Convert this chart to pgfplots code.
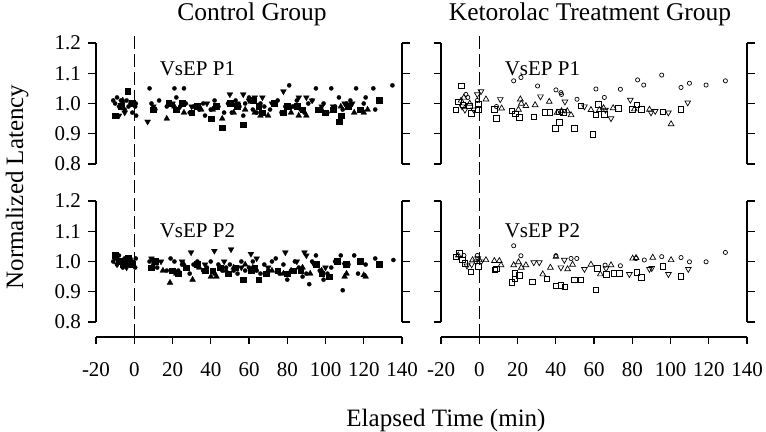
\documentclass[border=0pt]{standalone}
\usepackage{fontspec}
\setmainfont{Liberation Serif}
\usepackage{pgfplots}
\pgfplotsset{compat=1.18}

\tikzset{
  frame/.style={line width=1.1bp, black},
  vdash/.style={black, line width=1.5bp, dash pattern=on 13bp off 5bp},
  plab/.style={anchor=base west, font=\fontsize{21bp}{24bp}\selectfont},
}
\pgfplotsset{
  panel/.style={
    anchor=south west, width=306bp, height=121bp, scale only axis,
    xmin=-20, xmax=140, ymin=0.8, ymax=1.2,
    axis line style={draw=none},
    xtick=\empty, ytick={0.8,0.9,1.0,1.1,1.2},
    tick align=outside, major tick length=7.5bp,
    tick style={black, line width=1.1bp},
    ticklabel style={font=\fontsize{21bp}{24bp}\selectfont},
    yticklabel style={xshift=-4bp},
    clip=false,
  },
  leftlab/.style={yticklabels={0.8,0.9,1.0,1.1,1.2}},
  nolab/.style={yticklabels={}},
  xax/.style={
    anchor=south west, width=306bp, height=20bp, scale only axis,
    xmin=-20, xmax=140, ymin=0, ymax=1,
    axis x line=bottom, axis y line=none,
    axis line style={-, line width=1.1bp, black},
    xtick={-20,0,20,40,60,80,100,120,140},
    xticklabels={-20,0,20,40,60,80,100,120,140},
    tick align=outside, major tick length=7bp,
    tick style={black, line width=1.1bp},
    ticklabel style={font=\fontsize{21bp}{24bp}\selectfont},
    xticklabel style={yshift=-15bp},
  },
  fc/.style={only marks, mark=*, mark size=2.1bp, mark options={fill=black, draw=black, line width=0.3bp}},
  fd/.style={only marks, mark=triangle*, mark size=3.4bp, mark options={rotate=180, fill=black, draw=black, line width=0.3bp}},
  fu/.style={only marks, mark=triangle*, mark size=3.4bp, mark options={fill=black, draw=black, line width=0.3bp}},
  fs/.style={only marks, mark=square*, mark size=2.9bp, mark options={fill=black, draw=black, line width=0.3bp}},
  oc/.style={only marks, mark=o, mark size=2.1bp, mark options={draw=black, line width=0.7bp}},
  od/.style={only marks, mark=triangle, mark size=3.3bp, mark options={rotate=180, draw=black, line width=0.7bp}},
  ou/.style={only marks, mark=triangle, mark size=3.3bp, mark options={draw=black, line width=0.7bp}},
  os/.style={only marks, mark=square, mark size=2.8bp, mark options={draw=black, line width=0.7bp}},
}

\begin{document}
\begin{tikzpicture}
\path[use as bounding box] (0,0) rectangle (766bp,432bp);

% ---------------- Control P1 ----------------
\begin{axis}[panel, leftlab, at={(96bp,268bp)}]
\draw[frame] (rel axis cs:0,0) -- (rel axis cs:0,1);
\draw[frame] (rel axis cs:1,0) -- (rel axis cs:1,1);
\draw[vdash] (axis cs:0,1.222) -- (axis cs:0,0.228);
\node[plab] at (axis cs:11.5,1.091) {VsEP P1};
\addplot[fc] coordinates {
(-11,1.01)(-10,1.00)(-9,1.02)(-8,0.99)(-7,1.01)(-6,1.00)(-5,0.98)(-4,1.01)(-3,0.99)(-2,1.00)(-1,0.97)(0.5,0.99)(1,0.96)(0.8,1.00)
(8,1.05)(9,1.00)(11,0.98)(13,1.01)(17,0.99)(19,1.00)(21,1.05)(22,1.02)(24,0.99)(26,1.05)(27,1.00)(29,0.97)(31,0.99)(34,0.98)
(36,1.00)(37,0.96)(40,0.98)(42,1.01)(44,0.99)(47,0.97)(49,1.00)(51,0.97)(53,1.01)(55,0.99)(57,0.96)(58,1.00)(60,1.02)(62,0.98)
(64,0.97)(66,1.00)(68,0.99)(71,0.98)(73,1.00)(75,1.01)(77,0.97)(79,0.99)(81,1.06)(83,0.99)(85,1.01)(87,0.98)(89,0.97)(91,1.00)
(93,1.01)(95,1.05)(97,0.98)(99,1.00)(101,0.97)(103,1.05)(105,0.99)(107,1.02)(109,0.98)(111,1.00)(113,1.01)(116,1.05)(118,0.98)
(120,1.00)(121,1.02)(125,1.05)(126,0.98)(135,1.06)
};
\addplot[fd] coordinates {
(-8,0.96)(-5,0.97)(7,0.94)(10,0.99)(20,1.00)(23,0.98)(30,0.99)(38,1.00)(43,0.99)(50,1.03)(54,1.00)(57,1.03)(60,1.01)(63,1.02)
(67,1.02)(72,1.00)(78,1.04)(82,0.99)(86,1.02)(90,1.02)(93,1.01)(98,0.99)(104,0.99)(110,1.00)(114,1.00)
};
\addplot[fu] coordinates {
(-6,1.01)(17,0.95)(21,0.99)(26,0.97)(35,0.98)(41,0.98)(46,0.95)(52,0.97)(58,0.98)(63,0.97)(66,0.96)(70,0.96)(82,0.97)(86,0.96)
(90,0.96)(98,0.98)(104,0.98)(108,0.99)(115,0.97)(120,0.97)(122,0.98)
};
\addplot[fs] coordinates {
(-10,0.96)(-7,0.99)(-3.5,1.04)(-1,1.00)(10,0.98)(18,1.00)(22,0.98)(25,1.00)(30,0.97)(33,0.99)(40,0.95)(43,0.99)(46,0.92)(50,1.00)
(54,0.99)(57,0.93)(62,1.01)(65,0.99)(67,0.97)(73,1.00)(78,0.97)(80,0.99)(85,0.99)(88,0.98)(96,0.98)(100,0.97)(104,0.98)(107,0.94)
(108,0.96)(112,0.99)(118,0.98)(128,1.01)
};
\end{axis}
\node[anchor=base, font=\fontsize{25.5bp}{30bp}\selectfont] at (252bp,411bp) {Control Group};

% ---------------- Control P2 ----------------
\begin{axis}[panel, leftlab, at={(96bp,110bp)}]
\draw[frame] (rel axis cs:0,0) -- (rel axis cs:0,1);
\draw[frame] (rel axis cs:1,0) -- (rel axis cs:1,1);
\node[plab] at (axis cs:11.5,1.078) {VsEP P2};
\addplot[fc] coordinates {
(-11,1.00)(-10,1.01)(-9,0.99)(-8,1.02)(-7,1.00)(-6,0.98)(-5,1.01)(-4,1.00)(-3,0.99)(-2,1.01)(-1,1.00)(0.5,0.98)(0.8,1.01)
(8,1.00)(10,0.99)(12,0.98)(17,0.97)(19,1.01)(21,1.00)(23,0.97)(25,0.99)(27,0.98)(29,0.96)(31,0.99)(33,1.00)(36,0.97)(38,0.98)
(40,1.00)(42,0.96)(44,0.99)(46,0.97)(48,0.98)(50,0.99)(52,0.97)(54,0.96)(56,1.00)(58,0.97)(60,0.98)(62,1.00)(64,0.97)(66,0.96)
(68,0.99)(70,0.97)(72,1.00)(74,1.01)(76,0.96)(78,0.99)(80,0.94)(82,0.97)(84,1.00)(86,0.98)(88,0.95)(90,0.96)(91.5,0.925)(93,1.00)
(95,1.02)(97,0.97)(99,0.94)(101,0.96)(103,0.98)(105,1.00)(108,1.02)(109,0.905)(112,0.99)(115,1.02)(117,0.96)(121,0.99)(126,1.01)
(135.5,1.005)
};
\addplot[fd] coordinates {
(-9,0.99)(-4,0.98)(9,1.01)(14,1.00)(25,1.00)(29.7,1.03)(37,0.99)(41.9,1.035)(47,1.00)(50.6,1.04)(56,0.98)(61,1.025)(64,1.01)
(70,0.98)(79,1.03)(85,1.00)(89,1.03)(90,1.02)(94,0.99)(100,0.98)(110,0.99)
};
\addplot[fu] coordinates {
(-6,1.00)(15,0.97)(18.7,0.93)(22,0.96)(26,0.99)(30.5,0.94)(34,0.98)(40.1,0.95)(43,0.95)(48,0.97)(52,0.98)(58,0.99)(62,0.98)
(72,0.97)(78,0.96)(82,0.97)(88,0.98)(92,0.96)(98,0.97)(110,0.95)(111,0.96)(120,0.955)(121,0.95)
};
\addplot[fs] coordinates {
(-10,1.02)(-8,1.00)(-6,0.99)(-3,1.01)(-1,0.99)(9,0.98)(11,1.00)(20,0.97)(23,0.96)(27,0.98)(33,0.99)(37,0.97)(41,0.97)(45,0.98)
(49,0.96)(53,0.98)(57,0.94)(61,0.97)(63,0.98)(65,0.94)(69,0.96)(75,0.97)(80,0.96)(83,0.97)(87,0.97)(95,0.99)(98,0.96)(102,0.95)
(106,1.00)(111,0.99)(118,1.00)(128,0.99)
};
\end{axis}
\begin{axis}[xax, at={(96bp,95bp)}]
\end{axis}

% ---------------- Ketorolac P1 ----------------
\begin{axis}[panel, nolab, at={(441bp,268bp)}]
\draw[frame] (rel axis cs:0,0) -- (rel axis cs:0,1);
\draw[frame] (rel axis cs:1,0) -- (rel axis cs:1,1);
\draw[vdash] (axis cs:0,1.222) -- (axis cs:0,0.228);
\node[plab] at (axis cs:11.5,1.091) {VsEP P1};
\addplot[oc] coordinates {
(-7,1.03)(-6,1.02)(-1,1.01)(9,0.99)(18,1.075)(21.8,1.086)(30.5,1.058)(40.1,1.045)(42.7,1.036)(43,1.03)(51.1,1.014)(61,1.048)
(65.4,1.02)(73.8,1.047)(82.8,1.078)(86,1.061)(95.4,1.094)(105.5,1.053)(109.9,1.067)(118.6,1.061)(128.7,1.075)
};
\addplot[od] coordinates {
(-9,0.99)(-7.5,0.979)(-3,0.98)(-1,1.03)(0.9,1.04)(11,1.014)(32,1.023)(44.8,1.006)(55,0.99)(66,0.979)(68.9,0.951)(79,1.012)
(89.8,0.97)(92,0.975)(98.9,0.97)(109,1.003)
};
\addplot[ou] coordinates {
(-9.5,1.01)(-8,1.02)(-5,1.0)(3.5,1.014)(11.7,0.984)(20.5,0.98)(21.5,1.014)(22,1.0)(24.4,0.992)(29.2,0.995)(36.6,1.006)(40.7,0.97)
(43,0.975)(46,0.975)(48,0.962)(58.4,0.979)(62.8,0.979)(65,0.985)(70,0.985)(81.1,0.981)(89,0.98)(100.3,0.932)
};
\addplot[os] coordinates {
(-9.5,1.058)(-12.2,0.979)(-10.9,1.006)(-8.5,0.995)(-5.2,0.992)(-4,0.967)(-0.5,0.998)(-0.5,0.981)(7.9,0.981)(8.8,0.951)(17,0.976)
(19,0.966)(21,0.954)(28.5,0.956)(34.4,0.97)(37,0.97)(41.9,0.973)(41.9,0.937)(39.8,0.918)(44,0.97)(49.7,0.918)(53.2,0.992)
(59.3,0.899)(62.3,0.998)(61,0.962)(65.5,0.965)(72.7,0.984)(82.5,0.995)(84.6,0.981)(80,0.98)(95.9,0.973)(105.5,0.981)
};
\end{axis}
\node[anchor=base, font=\fontsize{25.5bp}{30bp}\selectfont] at (590bp,411bp) {Ketorolac Treatment Group};

% ---------------- Ketorolac P2 ----------------
\begin{axis}[panel, nolab, at={(441bp,110bp)}]
\draw[frame] (rel axis cs:0,0) -- (rel axis cs:0,1);
\draw[frame] (rel axis cs:1,0) -- (rel axis cs:1,1);
\node[plab] at (axis cs:11.5,1.078) {VsEP P2};
\addplot[oc] coordinates {
(-8,1.02)(-1,1.02)(18,1.052)(21.8,1.019)(40.1,1.019)(48,1.01)(51,1.01)(65.8,0.988)(73.8,0.986)(82,1.01)(86.3,1.005)(95.4,1.016)
(105.5,1.013)(109.9,0.999)(118.6,0.999)(128.7,1.03)
};
\addplot[od] coordinates {
(-6.4,0.986)(-4,0.99)(-1.8,1.0)(-0.8,1.01)(1,1.0)(28.5,0.997)(31.4,0.997)(42.7,0.98)(44.5,1.005)(55,0.975)(66.3,0.977)(78.5,0.958)
(89,0.975)(90.2,0.978)(98.9,0.958)(109.3,0.975)
};
\addplot[ou] coordinates {
(-11,1.02)(-3.5,1.005)(0,1.005)(3.5,1.005)(7.9,1.002)(10.5,1.002)(11.4,0.988)(18,0.988)(20.5,0.998)(22,0.98)(24.4,0.988)(33.2,0.958)
(37.2,0.98)(40.1,1.016)(46.2,0.975)(48.8,0.99)(58.4,0.99)(63.3,0.958)(68.9,0.988)(80.2,1.01)(82,1.012)(90.7,1.013)(100.3,1.005)
};
\addplot[os] coordinates {
(-12.2,1.016)(-10.4,1.027)(-8.7,1.005)(-7.5,0.994)(-4.3,0.966)(-0.5,0.983)(8.2,0.972)(8.8,0.976)(17,0.931)(18.7,0.942)(21,0.955)
(18.7,0.96)(27.9,0.933)(35.4,0.942)(40.1,0.92)(42.7,0.922)(44.8,0.916)(49.7,0.939)(53.2,0.939)(61,0.906)(61.9,0.977)(66.3,0.958)
(70.3,0.961)(73.2,0.961)(82.5,0.964)(84.6,0.947)(95.9,0.983)(105.5,0.95)
};
\end{axis}
\begin{axis}[xax, at={(441bp,95bp)}]
\end{axis}

\node[rotate=90, anchor=base, font=\fontsize{25bp}{30bp}\selectfont] at (23bp,245bp) {Normalized Latency};
\node[anchor=base, font=\fontsize{25bp}{30bp}\selectfont] at (446bp,6bp) {Elapsed Time (min)};
\end{tikzpicture}
\end{document}
